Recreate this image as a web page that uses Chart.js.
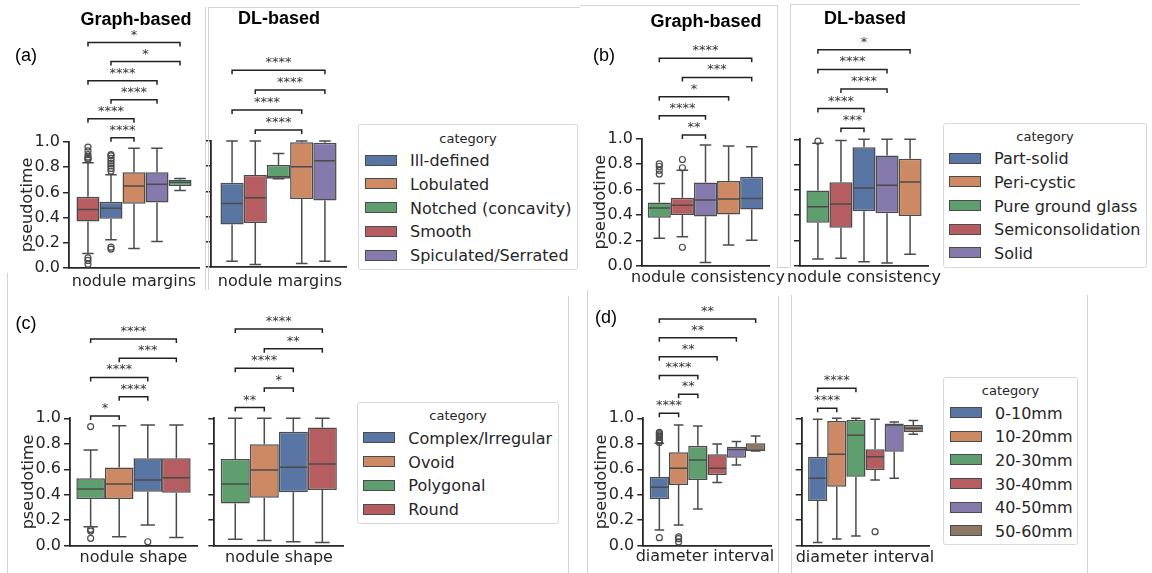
<!DOCTYPE html>
<html><head><meta charset="utf-8">
<script src="https://cdn.jsdelivr.net/npm/chart.js@4.4.1/dist/chart.umd.min.js"></script>
<style>
html,body{margin:0;padding:0;background:#fff;}
#fig{position:relative;width:1152px;height:573px;overflow:hidden;background:#fff;font-family:"DejaVu Sans",sans-serif;color:#262626;}
canvas{position:absolute;}
.txt{position:absolute;white-space:nowrap;transform:translate(-50%,-50%);}
.ltxt{position:absolute;white-space:nowrap;transform:translateY(-50%);font-size:16px;color:#262626;}
.plabel{font-family:"Liberation Sans",Arial,sans-serif;font-size:18px;color:#000;}
.ptitle{font-family:"Liberation Sans",Arial,sans-serif;font-size:18px;font-weight:bold;color:#000;}
.lbox{position:absolute;border:1px solid #d8d8d8;border-radius:3px;background:#fff;box-sizing:border-box;}
.ltitle{font-size:13px;color:#262626;}
.patch{position:absolute;width:32px;height:11px;border:1px solid #4b4b4b;box-sizing:border-box;}
.vline{position:absolute;width:1px;background:#d3d3d3;}
.hline{position:absolute;height:1px;background:#d3d3d3;}
</style>
</head><body>
<div id="fig"></div>
<script>
// ---------------- data ----------------
// legend category orders
const marginsLegend = ['Ill-defined','Lobulated','Notched (concavity)','Smooth','Spiculated/Serrated'];
const consistencyLegend = ['Part-solid','Peri-cystic','Pure ground glass','Semiconsolidation','Solid'];
const shapeLegend = ['Complex/Irregular','Ovoid','Polygonal','Round'];
const diameterLegend = ['0-10mm','10-20mm','20-30mm','30-40mm','40-50mm','50-60mm'];

// (a) nodule margins - Graph-based
const marginsGraphCats = ['Smooth','Ill-defined','Lobulated','Spiculated/Serrated','Notched (concavity)'];
const marginsGraphLow  = [0.115, 0.225, 0.155, 0.21, 0.615];
const marginsGraphQ1   = [0.37, 0.39, 0.51, 0.52, 0.65];
const marginsGraphMed  = [0.465, 0.475, 0.65, 0.665, 0.68];
const marginsGraphQ3   = [0.565, 0.525, 0.76, 0.76, 0.70];
const marginsGraphHigh = [0.835, 0.74, 0.95, 0.95, 0.71];
const marginsGraphOut  = [[0.96,0.93,0.9,0.88,0.87,0.86,0.08,0.06,0.03],[0.9,0.89,0.87,0.85,0.83,0.81,0.79,0.77,0.165,0.15],[],[],[]];
const marginsGraphPairs = [[1,2],[0,2],[1,3],[0,3],[1,4],[0,4]];
const marginsGraphStars = ['****','****','****','****','*','*'];

// (a) nodule margins - DL-based
const marginsDLCats = ['Ill-defined','Smooth','Notched (concavity)','Lobulated','Spiculated/Serrated'];
const marginsDLLow  = [0.045, 0.02, 0.70, 0.027, 0.045];
const marginsDLQ1   = [0.337, 0.35, 0.70, 0.54, 0.528];
const marginsDLMed  = [0.504, 0.55, 0.716, 0.796, 0.843];
const marginsDLQ3   = [0.668, 0.73, 0.81, 0.99, 0.987];
const marginsDLHigh = [1.0, 1.0, 0.90, 1.0, 1.0];
const marginsDLOut  = [[],[],[],[],[]];
const marginsDLPairs = [[1,3],[0,3],[1,4],[0,4]];
const marginsDLStars = ['****','****','****','****'];

// (b) nodule consistency - Graph-based
const consistencyGraphCats = ['Pure ground glass','Semiconsolidation','Solid','Peri-cystic','Part-solid'];
const consistencyGraphLow  = [0.215, 0.228, 0.026, 0.162, 0.2];
const consistencyGraphQ1   = [0.377, 0.398, 0.387, 0.403, 0.442];
const consistencyGraphMed  = [0.453, 0.476, 0.516, 0.524, 0.529];
const consistencyGraphQ3   = [0.497, 0.534, 0.654, 0.665, 0.699];
const consistencyGraphHigh = [0.647, 0.75, 0.948, 0.942, 0.935];
const consistencyGraphOut  = [[0.8,0.78,0.75,0.72],[0.835,0.77,0.145],[],[],[]];
const consistencyGraphPairs = [[1,2],[0,2],[0,3],[1,4],[0,4]];
const consistencyGraphStars = ['**','****','*','***','****'];

// (b) nodule consistency - DL-based
const consistencyDLCats = ['Pure ground glass','Semiconsolidation','Part-solid','Solid','Peri-cystic'];
const consistencyDLLow  = [0.053, 0.058, 0.032, 0.021, 0.09];
const consistencyDLQ1   = [0.34, 0.30, 0.43, 0.414, 0.393];
const consistencyDLMed  = [0.467, 0.488, 0.615, 0.636, 0.662];
const consistencyDLQ3   = [0.594, 0.66, 0.937, 0.871, 0.847];
const consistencyDLHigh = [0.968, 0.99, 1.0, 1.0, 1.0];
const consistencyDLOut  = [[0.985],[],[],[],[]];
const consistencyDLPairs = [[1,2],[0,2],[1,3],[0,3],[0,4]];
const consistencyDLStars = ['***','****','****','****','*'];

// (c) nodule shape - Graph-based
const shapeGraphCats = ['Polygonal','Ovoid','Complex/Irregular','Round'];
const shapeGraphLow  = [0.149, 0.071, 0.162, 0.065];
const shapeGraphQ1   = [0.366, 0.366, 0.424, 0.416];
const shapeGraphMed  = [0.445, 0.484, 0.516, 0.534];
const shapeGraphQ3   = [0.529, 0.613, 0.686, 0.686];
const shapeGraphHigh = [0.751, 0.942, 0.948, 0.948];
const shapeGraphOut  = [[0.935,0.128,0.115,0.058],[],[0.031],[]];
const shapeGraphPairs = [[0,1],[1,2],[0,2],[1,3],[0,3]];
const shapeGraphStars = ['*','****','****','***','****'];

// (c) nodule shape - DL-based
const shapeDLCats = ['Polygonal','Ovoid','Complex/Irregular','Round'];
const shapeDLLow  = [0.05, 0.04, 0.031, 0.026];
const shapeDLQ1   = [0.332, 0.377, 0.419, 0.437];
const shapeDLMed  = [0.484, 0.594, 0.615, 0.641];
const shapeDLQ3   = [0.681, 0.796, 0.895, 0.927];
const shapeDLHigh = [1.0, 1.0, 1.0, 1.0];
const shapeDLOut  = [[],[],[],[]];
const shapeDLPairs = [[0,1],[1,2],[0,2],[1,3],[0,3]];
const shapeDLStars = ['**','*','****','**','****'];

// (d) diameter interval - Graph-based
const diameterGraphCats = ['0-10mm','10-20mm','20-30mm','30-40mm','40-50mm','50-60mm'];
const diameterGraphLow  = [0.123, 0.162, 0.288, 0.497, 0.634, 0.743];
const diameterGraphQ1   = [0.366, 0.476, 0.516, 0.555, 0.691, 0.743];
const diameterGraphMed  = [0.458, 0.607, 0.673, 0.607, 0.756, 0.75];
const diameterGraphQ3   = [0.542, 0.733, 0.785, 0.717, 0.777, 0.804];
const diameterGraphHigh = [0.804, 0.948, 0.94, 0.798, 0.817, 0.861];
const diameterGraphOut  = [[0.89,0.88,0.87,0.86,0.85,0.83,0.82,0.81,0.063],[0.07,0.055,0.03],[],[],[],[]];
const diameterGraphPairs = [[0,1],[1,2],[0,2],[0,3],[0,4],[0,5]];
const diameterGraphStars = ['****','**','****','**','**','**'];

// (d) diameter interval - DL-based
const diameterDLCats = ['0-10mm','10-20mm','20-30mm','30-40mm','40-50mm','50-60mm'];
const diameterDLLow  = [0.026, 0.052, 0.076, 0.516, 0.529, 0.874];
const diameterDLQ1   = [0.351, 0.463, 0.542, 0.594, 0.738, 0.89];
const diameterDLMed  = [0.529, 0.717, 0.866, 0.699, 0.948, 0.921];
const diameterDLQ3   = [0.699, 0.979, 0.987, 0.757, 0.96, 0.948];
const diameterDLHigh = [0.992, 1.0, 1.0, 0.992, 0.97, 0.982];
const diameterDLOut  = [[],[],[],[0.11],[],[]];
const diameterDLPairs = [[0,1],[0,2]];
const diameterDLStars = ['****','****'];

const yTickValues = [0, 0.2, 0.4, 0.6, 0.8, 1.0];

// ---------------- style ----------------
const PALETTE = ['#5875a3','#cc8963','#5f9e6e','#b55d60','#857aab','#8d7866'];
const EDGE = '#4b4b4b';
const INK = '#262626';

const fig = document.getElementById('fig');

const SUBPLOTS = [
  {cats:marginsGraphCats, low:marginsGraphLow, q1:marginsGraphQ1, med:marginsGraphMed, q3:marginsGraphQ3, high:marginsGraphHigh, out:marginsGraphOut, pairs:marginsGraphPairs, stars:marginsGraphStars, legend:marginsLegend, xTitle:'nodule margins', graph:true,
   axisX:69, axisEnd:199, rowTop:0, y1:142, y0:268, titleY:282, titleX:134, base:1.034, step:0.151, cp:0.885},
  {cats:marginsDLCats, low:marginsDLLow, q1:marginsDLQ1, med:marginsDLMed, q3:marginsDLQ3, high:marginsDLHigh, out:marginsDLOut, pairs:marginsDLPairs, stars:marginsDLStars, legend:marginsLegend, xTitle:'nodule margins', graph:false,
   axisX:211, axisEnd:346, rowTop:0, y1:141, y0:267, titleY:282, titleX:280, base:1.088, step:0.158, cp:0.86},
  {cats:consistencyGraphCats, low:consistencyGraphLow, q1:consistencyGraphQ1, med:consistencyGraphMed, q3:consistencyGraphQ3, high:consistencyGraphHigh, out:consistencyGraphOut, pairs:consistencyGraphPairs, stars:consistencyGraphStars, legend:consistencyLegend, xTitle:'nodule consistency', graph:true,
   axisX:642, axisEnd:769, rowTop:0, y1:138.5, y0:265.7, titleY:278, titleX:708, base:1.027, step:0.151, cp:0.91},
  {cats:consistencyDLCats, low:consistencyDLLow, q1:consistencyDLQ1, med:consistencyDLMed, q3:consistencyDLQ3, high:consistencyDLHigh, out:consistencyDLOut, pairs:consistencyDLPairs, stars:consistencyDLStars, legend:consistencyLegend, xTitle:'nodule consistency', graph:false,
   axisX:800, axisEnd:928, rowTop:0, y1:139.3, y0:265.7, titleY:278, titleX:864, base:1.088, step:0.155, cp:0.9},
  {cats:shapeGraphCats, low:shapeGraphLow, q1:shapeGraphQ1, med:shapeGraphMed, q3:shapeGraphQ3, high:shapeGraphHigh, out:shapeGraphOut, pairs:shapeGraphPairs, stars:shapeGraphStars, legend:shapeLegend, xTitle:'nodule shape', graph:true,
   axisX:70, axisEnd:197, rowTop:290, y1:418.3, y0:545.7, titleY:558.3, titleX:133.5, base:1.019, step:0.151, cp:0.9},
  {cats:shapeDLCats, low:shapeDLLow, q1:shapeDLQ1, med:shapeDLMed, q3:shapeDLQ3, high:shapeDLHigh, out:shapeDLOut, pairs:shapeDLPairs, stars:shapeDLStars, legend:shapeLegend, xTitle:'nodule shape', graph:false,
   axisX:214.3, axisEnd:343.3, rowTop:290, y1:418.3, y0:545.7, titleY:558.3, titleX:279, base:1.084, step:0.154, cp:0.9},
  {cats:diameterGraphCats, low:diameterGraphLow, q1:diameterGraphQ1, med:diameterGraphMed, q3:diameterGraphQ3, high:diameterGraphHigh, out:diameterGraphOut, pairs:diameterGraphPairs, stars:diameterGraphStars, legend:diameterLegend, xTitle:'diameter interval', graph:true,
   axisX:643.3, axisEnd:771.7, rowTop:290, y1:418.3, y0:545.7, titleY:556.7, titleX:705, base:1.04, step:0.148, cp:0.9},
  {cats:diameterDLCats, low:diameterDLLow, q1:diameterDLQ1, med:diameterDLMed, q3:diameterDLQ3, high:diameterDLHigh, out:diameterDLOut, pairs:diameterDLPairs, stars:diameterDLStars, legend:diameterLegend, xTitle:'diameter interval', graph:false,
   axisX:801.7, axisEnd:929.3, rowTop:290, y1:418.3, y0:545.7, titleY:558.3, titleX:865, base:1.079, step:0.157, cp:0.9}
];

function boxExtras(sp, left) {
  return {
    id: 'boxExtras',
    afterDatasetsDraw(chart) {
      const ctx = chart.ctx, ys = chart.scales.y;
      ctx.save();
      ctx.strokeStyle = EDGE; ctx.lineWidth = 1.5; ctx.lineCap = 'butt';
      const centers = [];
      chart.data.datasets.forEach((ds, i) => {
        const el = chart.getDatasetMeta(i).data[0];
        const x = el.x, w = el.width;
        centers.push(x);
        const pLow = ys.getPixelForValue(sp.low[i]), pQ1 = ys.getPixelForValue(sp.q1[i]);
        const pMed = ys.getPixelForValue(sp.med[i]), pQ3 = ys.getPixelForValue(sp.q3[i]);
        const pHigh = ys.getPixelForValue(sp.high[i]);
        const inner = w/2 - 0.75;
        ctx.beginPath();
        ctx.moveTo(x - inner, pMed); ctx.lineTo(x + inner, pMed);
        ctx.moveTo(x, pQ3); ctx.lineTo(x, pHigh);
        ctx.moveTo(x, pQ1); ctx.lineTo(x, pLow);
        ctx.moveTo(x - w/4, pHigh); ctx.lineTo(x + w/4, pHigh);
        ctx.moveTo(x - w/4, pLow); ctx.lineTo(x + w/4, pLow);
        ctx.stroke();
        ctx.lineWidth = 1.2;
        sp.out[i].forEach(v => {
          ctx.beginPath();
          ctx.arc(x, ys.getPixelForValue(v), 3, 0, Math.PI*2);
          ctx.stroke();
        });
        ctx.lineWidth = 1.5;
      });
      // significance brackets
      ctx.strokeStyle = '#222'; ctx.lineWidth = 1.5;
      ctx.fillStyle = '#333';
      ctx.font = '13px "DejaVu Sans"';
      ctx.textAlign = 'center'; ctx.textBaseline = 'alphabetic';
      sp.pairs.forEach((pr, k) => {
        const yb = ys.getPixelForValue(sp.base + k*sp.step);
        const xa = centers[pr[0]], xb = centers[pr[1]];
        ctx.beginPath();
        ctx.moveTo(xa, yb + 4); ctx.lineTo(xa, yb); ctx.lineTo(xb, yb); ctx.lineTo(xb, yb + 4);
        ctx.stroke();
        ctx.fillText(sp.stars[k], (xa + xb)/2, yb - 4);
      });
      // x-axis label (category name), drawn without width squeezing
      ctx.fillStyle = INK;
      ctx.font = '16px "DejaVu Sans"';
      ctx.textBaseline = 'middle';
      ctx.fillText(chart.data.labels[0], sp.titleX - left, sp.titleY - sp.rowTop);
      ctx.restore();
    }
  };
}

SUBPLOTS.forEach(sp => {
  const yW = sp.graph ? 50.6 : 40;
  const left = Math.floor(sp.axisX - yW);
  const yWidth = sp.axisX - left;
  const bottom = Math.ceil(sp.titleY + 12);
  const right = Math.ceil(sp.axisEnd + 40);
  const width = right - left;
  const height = bottom - sp.rowTop;
  const cv = document.createElement('canvas');
  cv.width = width; cv.height = height;
  cv.style.left = left + 'px'; cv.style.top = sp.rowTop + 'px';
  cv.style.width = width + 'px'; cv.style.height = height + 'px';
  fig.appendChild(cv);
  const datasets = sp.cats.map((c, i) => ({
    label: c,
    data: [[sp.q1[i], sp.q3[i]]],
    backgroundColor: PALETTE[sp.legend.indexOf(c)],
    borderColor: EDGE,
    borderWidth: 1.5,
    borderSkipped: false,
    categoryPercentage: sp.cp,
    barPercentage: 1.0
  }));
  new Chart(cv, {
    type: 'bar',
    data: { labels: [sp.xTitle], datasets },
    options: {
      responsive: false, animation: false, devicePixelRatio: 1,
      layout: { padding: { top: sp.y1 - sp.rowTop, right: right - sp.axisEnd, bottom: 0, left: 0 } },
      plugins: { legend: {display: false}, tooltip: {enabled: false}, title: {display: false} },
      events: [],
      scales: {
        x: {
          type: 'category',
          grid: { display: false, drawTicks: false },
          border: { display: true, color: INK, width: 1.8 },
          ticks: { display: false },
          title: { display: false },
          afterFit: s => { s.height = bottom - sp.y0; }
        },
        y: {
          type: 'linear', min: 0, max: 1,
          afterBuildTicks: s => { s.ticks = yTickValues.map(v => ({value: v})); },
          grid: { display: true, drawOnChartArea: false, drawTicks: true, tickLength: 6, color: INK, lineWidth: 1.5 },
          border: { display: true, color: INK, width: 1.8 },
          ticks: { display: sp.graph, padding: 3, color: INK, font: {family: 'DejaVu Sans', size: 16}, callback: v => Number(v).toFixed(1) },
          title: { display: sp.graph, text: 'pseudotime', color: INK, font: {family: 'DejaVu Sans', size: 16}, padding: 0 },
          afterFit: s => { s.width = yWidth; }
        }
      }
    },
    plugins: [boxExtras(sp, left)]
  });
});

// ---------------- legends ----------------
const LEGENDS = [
  {items: marginsLegend, box:[358,124,220,146], titleY:138, firstY:160, dy:23.8, patchX:365, textX:410},
  {items: consistencyLegend, box:[943,123,204,145], titleY:136, firstY:158.3, dy:23.6, patchX:949.3, textX:994},
  {items: shapeLegend, box:[357,402,202,122], titleY:415, firstY:437.7, dy:23.8, patchX:363.3, textX:408.3},
  {items: diameterLegend, box:[943,377,135,168], titleY:390, firstY:412.7, dy:23.6, patchX:950, textX:995}
];
function addDiv(cls, css, text) {
  const d = document.createElement('div');
  d.className = cls;
  Object.assign(d.style, css);
  if (text !== undefined) d.textContent = text;
  fig.appendChild(d);
  return d;
}
LEGENDS.forEach(L => {
  const [bx, by, bw, bh] = L.box;
  addDiv('lbox', {left: bx+'px', top: by+'px', width: bw+'px', height: bh+'px'});
  addDiv('txt ltitle', {left: (bx + bw/2)+'px', top: L.titleY+'px'}, 'category');
  L.items.forEach((name, i) => {
    const y = L.firstY + i*L.dy;
    addDiv('patch', {left: L.patchX+'px', top: (y - 5.5)+'px', background: PALETTE[i]});
    addDiv('ltxt', {left: L.textX+'px', top: y+'px'}, name);
  });
});

// ---------------- panel labels & titles ----------------
[['(a)',26,55],['(b)',604,55],['(c)',26,323],['(d)',606,317]].forEach(([t,x,y]) => addDiv('txt plabel', {left:x+'px', top:y+'px'}, t));
[['Graph-based',136,19],['DL-based',279,18],['Graph-based',706,20.5],['DL-based',865,18.3]].forEach(([t,x,y]) => addDiv('txt ptitle', {left:x+'px', top:y+'px'}, t));

// ---------------- faint frame lines of the composite ----------------
[[205,7,283],[208,7,283],[777,5,262],[790,4,263],[7,273,300],[587,290,283],[778,296,277],[791,295,278],[568,296,277],[1087,295,278]]
  .forEach(([x,y,h]) => addDiv('vline', {left:x+'px', top:y+'px', height:h+'px'}));
[[208,7,372],[580,5,197],[790,4,290],[777,267,13]]
  .forEach(([x,y,w]) => addDiv('hline', {left:x+'px', top:y+'px', width:w+'px'}));
</script>
</body></html>
